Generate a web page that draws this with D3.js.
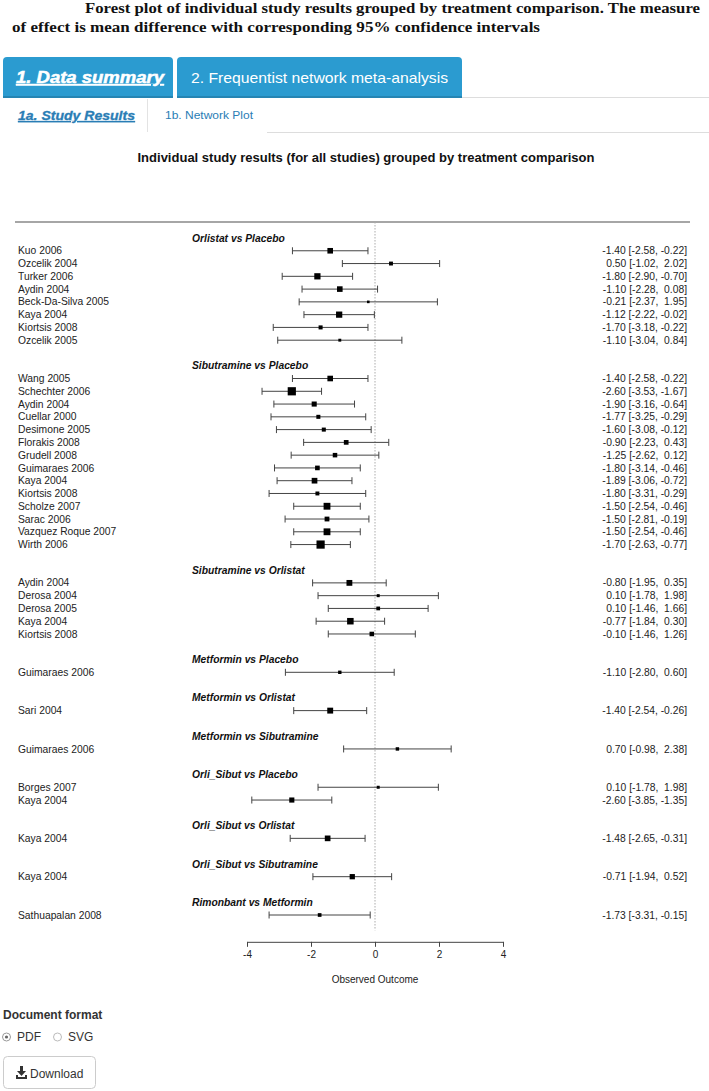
<!DOCTYPE html>
<html><head><meta charset="utf-8">
<script src="https://cdn.jsdelivr.net/npm/d3@7"></script>
<style>
html,body{margin:0;padding:0;background:#fff;}
svg text{font-family:"Liberation Sans",Arial,sans-serif;}
</style></head>
<body>
<svg id="c" width="709" height="1091"></svg>
<script>
// ---------------- data ----------------
const comparisons = ["Orlistat vs Placebo","Sibutramine vs Placebo","Sibutramine vs Orlistat","Metformin vs Placebo","Metformin vs Orlistat","Metformin vs Sibutramine","Orli_Sibut vs Placebo","Orli_Sibut vs Orlistat","Orli_Sibut vs Sibutramine","Rimonbant vs Metformin"];
const studyNames = [
 "Kuo 2006","Ozcelik 2004","Turker 2006","Aydin 2004","Beck-Da-Silva 2005","Kaya 2004","Kiortsis 2008","Ozcelik 2005",
 "Wang 2005","Schechter 2006","Aydin 2004","Cuellar 2000","Desimone 2005","Florakis 2008","Grudell 2008","Guimaraes 2006","Kaya 2004","Kiortsis 2008","Scholze 2007","Sarac 2006","Vazquez Roque 2007","Wirth 2006",
 "Aydin 2004","Derosa 2004","Derosa 2005","Kaya 2004","Kiortsis 2008",
 "Guimaraes 2006",
 "Sari 2004",
 "Guimaraes 2006",
 "Borges 2007","Kaya 2004",
 "Kaya 2004",
 "Kaya 2004",
 "Sathuapalan 2008"];
const studyComparison = [0,0,0,0,0,0,0,0, 1,1,1,1,1,1,1,1,1,1,1,1,1,1, 2,2,2,2,2, 3, 4, 5, 6,6, 7, 8, 9];
const estimates = [-1.40,0.50,-1.80,-1.10,-0.21,-1.12,-1.70,-1.10,
 -1.40,-2.60,-1.90,-1.77,-1.60,-0.90,-1.25,-1.80,-1.89,-1.80,-1.50,-1.50,-1.50,-1.70,
 -0.80,0.10,0.10,-0.77,-0.10,
 -1.10, -1.40, 0.70, 0.10,-2.60, -1.48, -0.71, -1.73];
const lowers = [-2.58,-1.02,-2.90,-2.28,-2.37,-2.22,-3.18,-3.04,
 -2.58,-3.53,-3.16,-3.25,-3.08,-2.23,-2.62,-3.14,-3.06,-3.31,-2.54,-2.81,-2.54,-2.63,
 -1.95,-1.78,-1.46,-1.84,-1.46,
 -2.80, -2.54, -0.98, -1.78,-3.85, -2.65, -1.94, -3.31];
const uppers = [-0.22,2.02,-0.70,0.08,1.95,-0.02,-0.22,0.84,
 -0.22,-1.67,-0.64,-0.29,-0.12,0.43,0.12,-0.46,-0.72,-0.29,-0.46,-0.19,-0.46,-0.77,
 0.35,1.98,1.66,0.30,1.26,
 0.60, -0.26, 2.38, 1.98,-1.35, -0.31, 0.52, -0.15];
const tickValues = [-4,-2,0,2,4];

// ---------------- layout ----------------
const svg = d3.select("#c");
svg.append("rect").attr("width",709).attr("height",1091).attr("fill","#fff");

function fitText(sel, w){ sel.attr("textLength", w).attr("lengthAdjust","spacingAndGlyphs"); return sel; }

// caption
const cap = svg.append("g");
fitText(cap.append("text").attr("x",85).attr("y",13).attr("font-size",15).attr("font-weight","bold")
  .style("font-family","'Liberation Serif',serif").attr("fill","#111")
  .text("Forest plot of individual study results grouped by treatment comparison. The measure"), 615);
fitText(cap.append("text").attr("x",12).attr("y",32).attr("font-size",15).attr("font-weight","bold")
  .style("font-family","'Liberation Serif',serif").attr("fill","#111")
  .text("of effect is mean difference with corresponding 95% confidence intervals"), 528);

// tabs
const blue = "#2b9bd0";
function topRounded(x,y,w,h,r){return `M${x},${y+h}V${y+r}Q${x},${y} ${x+r},${y}H${x+w-r}Q${x+w},${y} ${x+w},${y+r}V${y+h}Z`;}
svg.append("path").attr("d",topRounded(3,57,170,41,4)).attr("fill",blue);
svg.append("path").attr("d",topRounded(177,57,285,41,4)).attr("fill",blue);
svg.append("line").attr("x1",3).attr("x2",173).attr("y1",97).attr("y2",97).attr("stroke","#2585b3").attr("stroke-width",2);
svg.append("line").attr("x1",177).attr("x2",462).attr("y1",97).attr("y2",97).attr("stroke","#2585b3").attr("stroke-width",2);
svg.append("line").attr("x1",462).attr("x2",709).attr("y1",97.5).attr("y2",97.5).attr("stroke","#ddd");
fitText(svg.append("text").attr("x",16).attr("y",83).attr("font-size",16).style("font-weight","700").style("font-style","italic")
  .attr("text-decoration","underline").attr("fill","#fff").attr("stroke","#fff").attr("stroke-width",0.5).text("1. Data summary"),148);
fitText(svg.append("text").attr("x",191).attr("y",83).attr("font-size",15).attr("fill","#fff")
  .text("2. Frequentist network meta-analysis"),257);
// subtabs
svg.append("line").attr("x1",147.5).attr("x2",147.5).attr("y1",99).attr("y2",132).attr("stroke","#e3e3e3");
svg.append("line").attr("x1",267).attr("x2",709).attr("y1",132.5).attr("y2",132.5).attr("stroke","#ddd");
fitText(svg.append("text").attr("x",18).attr("y",120).attr("font-size",12).style("font-weight","700").style("font-style","italic")
  .attr("text-decoration","underline").attr("fill","#2a7db5").attr("stroke","#2a7db5").attr("stroke-width",0.3).text("1a. Study Results"),117);
fitText(svg.append("text").attr("x",165).attr("y",119).attr("font-size",11).attr("fill","#2a7db5").text("1b. Network Plot"),88);

// plot title
fitText(svg.append("text").attr("x",366).attr("y",162).attr("text-anchor","middle").attr("font-size",12).attr("font-weight","bold")
  .attr("fill","#111").text("Individual study results (for all studies) grouped by treatment comparison"),457);

// row assignment
const studyRow = [], headRow = [];
let r = -1;
comparisons.forEach((c,gi)=>{
  headRow.push(r); r++;
  studyComparison.forEach((g,i)=>{ if(g===gi){ studyRow[i]=r; r++; } });
  r++;
});
const lastRow = d3.max(studyRow);

const y = d3.scaleLinear().domain([-1,lastRow]).range([238,915]);
const x = d3.scaleLinear().domain([-4,4]).range([247,503]);

// weights -> marker size
const wts = lowers.map((l,i)=>1/Math.pow(uppers[i]-l,2));
const size = d3.scaleLinear().domain(d3.extent(wts)).range([2.6,8.2]);

// top rule
svg.append("line").attr("x1",15).attr("x2",690).attr("y1",y(-2.25)).attr("y2",y(-2.25)).attr("stroke","#888").attr("stroke-width",1.6);
// reference line
svg.append("line").attr("x1",x(0)).attr("x2",x(0)).attr("y1",y(-2.25)).attr("y2",y(lastRow+1.2))
  .attr("stroke","#aaa").attr("stroke-dasharray","1.5,1.5");

const tf = svg.append("g").attr("font-size",10.3).attr("fill","#222");
// headings
tf.selectAll("text.h").data(comparisons).join("text").attr("class","h")
  .attr("x",192).attr("y",(d,i)=>y(headRow[i])).attr("dy","0.35em")
  .attr("font-weight","bold").attr("font-style","italic").attr("fill","#111").text(d=>d);
// study labels
tf.selectAll("text.s").data(studyNames).join("text").attr("class","s")
  .attr("x",18).attr("y",(d,i)=>y(studyRow[i])).attr("dy","0.35em").text(d=>d);
// right text
const f = v => (v<0?"":" ")+v.toFixed(2);
tf.selectAll("text.r").data(estimates).join("text").attr("class","r")
  .attr("x",687).attr("y",(d,i)=>y(studyRow[i])).attr("dy","0.35em").attr("text-anchor","end")
  .style("white-space","pre")
  .text((d,i)=>`${d.toFixed(2)} [${f(lowers[i])}, ${f(uppers[i])}]`);

// CIs
const ci = svg.append("g").attr("stroke","#444").attr("stroke-width",1);
estimates.forEach((e,i)=>{
  const yy = y(studyRow[i]);
  ci.append("line").attr("x1",x(lowers[i])).attr("x2",x(uppers[i])).attr("y1",yy).attr("y2",yy);
  ci.append("line").attr("x1",x(lowers[i])).attr("x2",x(lowers[i])).attr("y1",yy-3.5).attr("y2",yy+3.5);
  ci.append("line").attr("x1",x(uppers[i])).attr("x2",x(uppers[i])).attr("y1",yy-3.5).attr("y2",yy+3.5);
});
svg.append("g").selectAll("rect").data(estimates).join("rect")
  .attr("x",(d,i)=>x(d)-size(wts[i])/2).attr("y",(d,i)=>y(studyRow[i])-size(wts[i])/2)
  .attr("width",(d,i)=>size(wts[i])).attr("height",(d,i)=>size(wts[i])).attr("fill","#000");

// axis
const ax = svg.append("g").attr("transform",`translate(0,${y(lastRow+2.1)})`)
  .call(d3.axisBottom(x).tickValues(tickValues).tickSize(5).tickSizeOuter(0).tickPadding(4).tickFormat(d=>String(d)));
ax.select(".domain").attr("stroke","#444");
ax.selectAll(".tick line").attr("stroke","#444");
ax.selectAll(".tick text").attr("font-size",10).attr("fill","#222").style("font-family","'Liberation Sans',Arial,sans-serif");
svg.append("text").attr("x",x(0)).attr("y",983).attr("text-anchor","middle").attr("font-size",10).attr("fill","#222").text("Observed Outcome");

// bottom controls
svg.append("text").attr("x",3).attr("y",1019).attr("font-size",12).attr("font-weight","bold").attr("fill","#333").text("Document format");
svg.append("circle").attr("cx",6.5).attr("cy",1037).attr("r",4).attr("fill","#fff").attr("stroke","#999");
svg.append("circle").attr("cx",6.5).attr("cy",1037).attr("r",1.6).attr("fill","#666");
svg.append("text").attr("x",17).attr("y",1041).attr("font-size",12).attr("fill","#333").text("PDF");
svg.append("circle").attr("cx",57.5).attr("cy",1037).attr("r",4).attr("fill","#fff").attr("stroke","#bbb");
svg.append("text").attr("x",68).attr("y",1041).attr("font-size",12).attr("fill","#333").text("SVG");
svg.append("rect").attr("x",3.5).attr("y",1056.5).attr("width",92).attr("height",32).attr("rx",4).attr("fill","#fff").attr("stroke","#ccc");
// download icon
const ic = svg.append("g").attr("fill","#333");
ic.append("rect").attr("x",20).attr("y",1066).attr("width",3).attr("height",6);
ic.append("path").attr("d","M17,1071 L26,1071 L21.5,1076 Z");
ic.append("path").attr("d","M16,1075 h2 v2 h7 v-2 h2 v4 h-11 Z");
svg.append("text").attr("x",30).attr("y",1078).attr("font-size",12).attr("fill","#333").text("Download");
</script>
</body></html>
